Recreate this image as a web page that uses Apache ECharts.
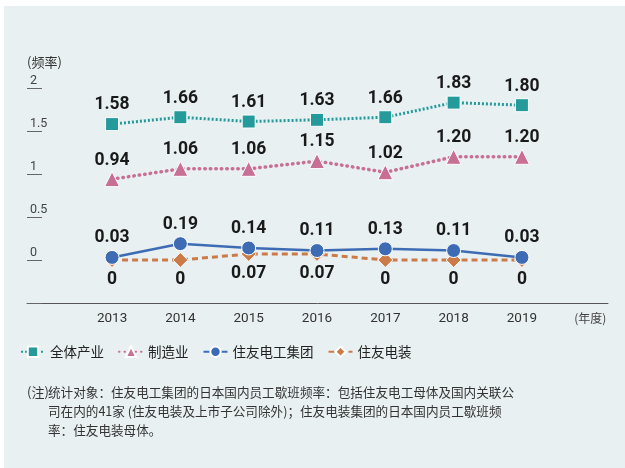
<!DOCTYPE html>
<html>
<head>
<meta charset="utf-8">
<script src="https://cdn.jsdelivr.net/npm/echarts@6/dist/echarts.min.js"></script>
<style>
  body { margin: 0; background: #ffffff; }
  #panel { position: absolute; left: 4px; top: 6px; width: 621px; height: 462px; background: #e8f0f2; }
  #main { position: absolute; left: 0; top: 0; width: 625px; height: 468px; }
</style>
</head>
<body>
<div id="panel"></div>
<div id="main"></div>
<script>
// 年度
var years = [2013, 2014, 2015, 2016, 2017, 2018, 2019];
// 歇班频率
var allIndustry = [1.58, 1.66, 1.61, 1.63, 1.66, 1.83, 1.80];
var manufacturing = [0.94, 1.06, 1.06, 1.15, 1.02, 1.20, 1.20];
var seiGroup = [0.03, 0.19, 0.14, 0.11, 0.13, 0.11, 0.03];
var sewsGroup = [0, 0, 0.07, 0.07, 0, 0, 0];

function pairs(vals) {
	return years.map(function (y, i) { return [y, vals[i]]; });
}

function makeSeries(name, vals, color, symbol, size, lineStyle, pos, dist, z) {
	return {
		name: name,
		type: 'line',
		data: pairs(vals),
		symbol: symbol,
		symbolSize: size,
		z: z,
		itemStyle: { color: color, borderColor: '#ffffff', borderWidth: 1 },
		lineStyle: lineStyle,
		label: {
			show: true,
			position: pos,
			distance: dist,
			fontFamily: 'Roboto',
			fontWeight: 'bold',
			fontSize: 17.5,
			color: '#1a1a1a',
			formatter: function (p) {
				var v = p.value[1];
				return v === 0 ? '0' : v.toFixed(2);
			}
		}
	};
}

var myChart = echarts.init(document.getElementById('main'), null, { renderer: 'canvas' });
var option = {
	animation: false,
	title: [
		{
			text: '(频率)',
			left: 27, top: 56, padding: 0,
			textStyle: { fontFamily: 'Noto Sans CJK SC', fontSize: 13, fontWeight: 'normal', color: '#333' }
		},
		{
			text: '(注)',
			left: 27, top: 383, padding: 0,
			textStyle: { fontFamily: 'Noto Sans CJK SC', fontSize: 13, fontWeight: 'normal', color: '#333', lineHeight: 19 }
		},
		{
			text: '统计对象：住友电工集团的日本国内员工歇班频率：包括住友电工母体及国内关联公\n司在内的41家 (住友电装及上市子公司除外)；住友电装集团的日本国内员工歇班频\n率：住友电装母体。',
			left: 48, top: 383, padding: 0,
			textStyle: { fontFamily: 'Noto Sans CJK SC', fontSize: 12.6, fontWeight: 'normal', color: '#333', lineHeight: 19 }
		}
	],
	legend: {
		left: 20, top: 345, padding: 0,
		itemWidth: 24, itemHeight: 13, itemGap: 14,
		textStyle: { fontFamily: 'Noto Sans CJK SC', fontSize: 13.5, color: '#222' },
		data: ['全体产业', '制造业', '住友电工集团', '住友电装']
	},
	grid: { left: 27, right: 17, top: 88, bottom: 165, containLabel: false },
	xAxis: {
		type: 'value',
		min: 2011.755,
		max: 2020.26,
		splitLine: { show: false },
		axisTick: { show: false },
		axisLine: { show: true, onZero: false, lineStyle: { color: '#555', width: 1 } },
		axisLabel: {
			customValues: [2013, 2014, 2015, 2016, 2017, 2018, 2019, 2020],
			margin: 9,
			fontFamily: 'Roboto', fontSize: 13.5, color: '#333',
			formatter: function (v) { return v === 2020 ? '{u|(年度)}' : String(v); },
			rich: { u: { fontFamily: 'Noto Sans CJK SC', fontSize: 12, color: '#444' } }
		}
	},
	yAxis: {
		type: 'value',
		min: -0.5,
		max: 2,
		interval: 0.5,
		splitLine: { show: false },
		axisLine: { show: false },
		axisTick: { show: true, inside: true, length: 15, lineStyle: { color: '#666', width: 1 } },
		axisLabel: {
			inside: true,
			margin: 3,
			align: 'left',
			verticalAlign: 'bottom',
			padding: [0, 0, 1, 0],
			fontFamily: 'Roboto', fontSize: 12.5, color: '#444',
			formatter: function (v) { return v < 0 ? '' : String(v); }
		}
	},
	series: [
		makeSeries('全体产业', allIndustry, '#249a9a', 'rect', 13,
			{ color: '#249a9a', width: 3, type: [2, 2] }, 'top', 3, 2),
		makeSeries('制造业', manufacturing, '#c86f96', 'triangle', 15,
			{ color: '#c86f96', width: 3.5, type: [0.5, 5], cap: 'round' }, 'top', 2, 2),
		makeSeries('住友电装', sewsGroup, '#cc7b48', 'diamond', 15,
			{ color: '#cc7b48', width: 3, type: [6, 4] }, 'bottom', 3, 2),
		makeSeries('住友电工集团', seiGroup, '#3e6cb4', 'circle', 14,
			{ color: '#3e6cb4', width: 2.5, type: 'solid' }, 'top', 3, 3)
	]
};
myChart.setOption(option);
</script>
</body>
</html>
